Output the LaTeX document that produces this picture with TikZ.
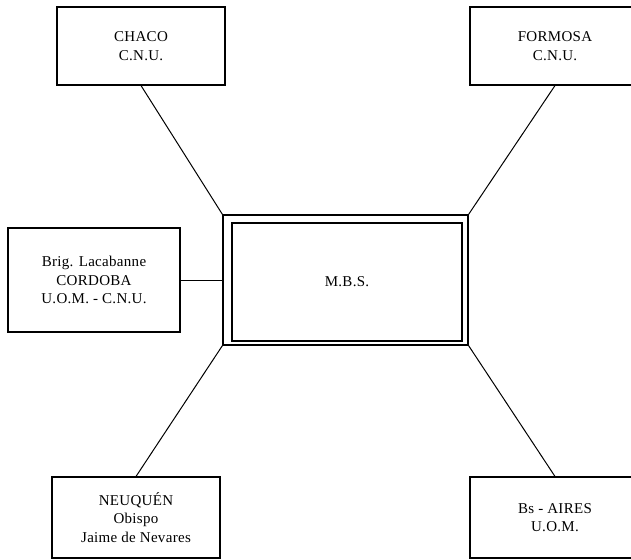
\documentclass[tikz,border=0pt]{standalone}
\usepackage{fontspec}
\setmainfont{Liberation Serif}[LetterSpace=2]
\usepackage{tikz}
\usetikzlibrary{positioning, calc}
\tikzset{
    unit/.style={draw, line width=1.1pt, align=center, inner sep=0pt,
        font=\fontsize{15}{18.5}\selectfont},
    link/.style={line width=1pt}
}

\begin{document}
\begin{tikzpicture}[x=1pt, y=-1pt]
    % Frame
    \clip (0,0) rectangle (631,559);

    % Centre
    \node[unit, minimum width=245pt, minimum height=130pt] (mbs) at (345.5,280) {};
    \node[unit, minimum width=230pt, minimum height=118pt] (mbsin) at (347,282) {M.B.S.};

    % Provinces
    \node[unit, minimum width=168pt, minimum height=78pt] (chaco) at (141,46) {CHACO\\C.N.U.};
    \node[unit, minimum width=170pt, minimum height=78pt] (formosa) at (555,46) {FORMOSA\\C.N.U.};
    \node[unit, minimum width=172pt, minimum height=104pt] (cordoba) at (94,280) {Brig. Lacabanne\\CORDOBA\\U.O.M. - C.N.U.};
    \node[unit, minimum width=168pt, minimum height=81pt] (neuquen) at (136,517.5) {NEUQUÉN\\Obispo\\Jaime de Nevares};
    \node[unit, minimum width=170pt, minimum height=81pt] (bsaires) at (555,517.5) {Bs - AIRES\\U.O.M.};

    % Links
    \draw[link] (chaco.south) -- (mbs.north west);
    \draw[link] (formosa.south) -- (mbs.north east);
    \draw[link] (cordoba.east) -- (mbs.west);
    \draw[link] (neuquen.north) -- (mbs.south west);
    \draw[link] (bsaires.north) -- (mbs.south east);
\end{tikzpicture}
\end{document}
